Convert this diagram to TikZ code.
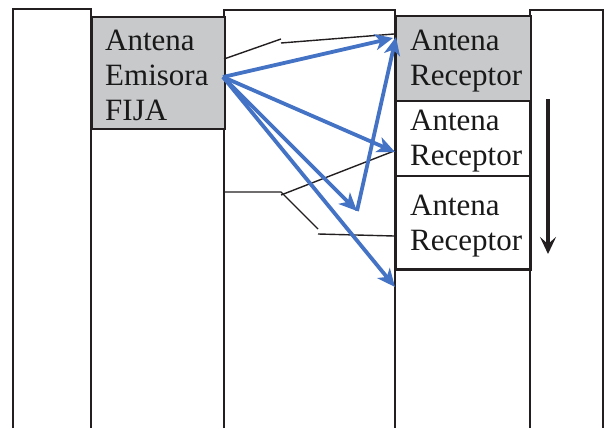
\documentclass[tikz,border=0pt]{standalone}
\usepackage{fontspec}
\setmainfont{Liberation Serif}
\usetikzlibrary{arrows.meta}
\definecolor{boxgray}{RGB}{200,201,203}
\definecolor{raycol}{RGB}{68,114,196}
\definecolor{edgecol}{RGB}{35,31,32}
\begin{document}
\begin{tikzpicture}[x=1pt,y=-1pt,
  wall/.style={draw=edgecol,line width=1.7pt},
  box/.style={draw=edgecol,line width=1.7pt,inner sep=0pt,anchor=north west},
  lbl/.style={font=\fontsize{31}{35}\selectfont,align=left,anchor=base west,inner sep=0pt,text=black!90},
  ray/.style={draw=raycol,line width=3.8pt,-{Stealth[length=18pt,width=16pt,inset=5pt]}},
  trace/.style={draw=edgecol,line width=1.4pt},
  move/.style={draw=edgecol,line width=3.6pt,-{Stealth[length=17pt,width=16pt,inset=7pt]}}
]
\useasboundingbox (0,0) rectangle (607,428);
% buildings
\draw[wall] (13,428) -- (13,9) -- (91,9) -- (91,428);
\draw[wall] (224,428) -- (224,10) -- (395,10) -- (395,428);
\draw[wall] (530,428) -- (530,10) -- (603,10) -- (603,428);
\draw[wall] (395,269) -- (530,269);
% antenna boxes
\node[box,fill=boxgray,minimum width=133pt,minimum height=112pt] (em) at (91,16) {};
\node[box,fill=boxgray,minimum width=135pt,minimum height=85pt] (r1) at (395,15) {};
\node[box,minimum width=135pt,minimum height=75pt] (r2) at (395,100) {};
\node[box,minimum width=135pt,minimum height=94pt] (r3) at (395,175) {};
% labels (anchored at the baseline of the last line)
\node[lbl] (emt) at (105,120) {Antena\\Emisora\\FIJA};
\node[lbl] (r1t) at (410,85) {Antena\\Receptor};
\node[lbl] (r2t) at (410,165) {Antena\\Receptor};
\node[lbl] (r3t) at (410,250) {Antena\\Receptor};
% ray coordinates
\coordinate (src) at (223,77);
\coordinate (ta) at (393,38);
\coordinate (tb) at (396,37);
\coordinate (tc) at (395,152);
\coordinate (mid) at (357,211);
\coordinate (te) at (395,287);
% black traces
\coordinate (p1) at (224,59);
\coordinate (p2) at (281,39);
\coordinate (p3) at (281,43);
\coordinate (p4) at (394,34);
\coordinate (q1) at (224,192);
\coordinate (q2) at (281,192);
\coordinate (q3) at (318,229);
\coordinate (q4) at (281,195);
\coordinate (q5) at (394,151);
\coordinate (q6) at (318,234);
\coordinate (q7) at (394,236);
\draw[trace] (p1) -- (p2);
\draw[trace] (p3) -- (p4);
\draw[trace] (q1) -- (q2) -- (q3);
\draw[trace] (q4) -- (q5);
\draw[trace] (q6) -- (q7);
% blue rays
\draw[ray] (src) -- (ta);
\draw[ray] (src) -- (tc);
\draw[ray] (src) -- (mid);
\draw[ray] (src) -- (te);
\draw[ray] (mid) -- (tb);
% movement arrow
\coordinate (m1) at (548,99);
\coordinate (m2) at (548,254);
\draw[move] (m1) -- (m2);
\end{tikzpicture}
\end{document}
